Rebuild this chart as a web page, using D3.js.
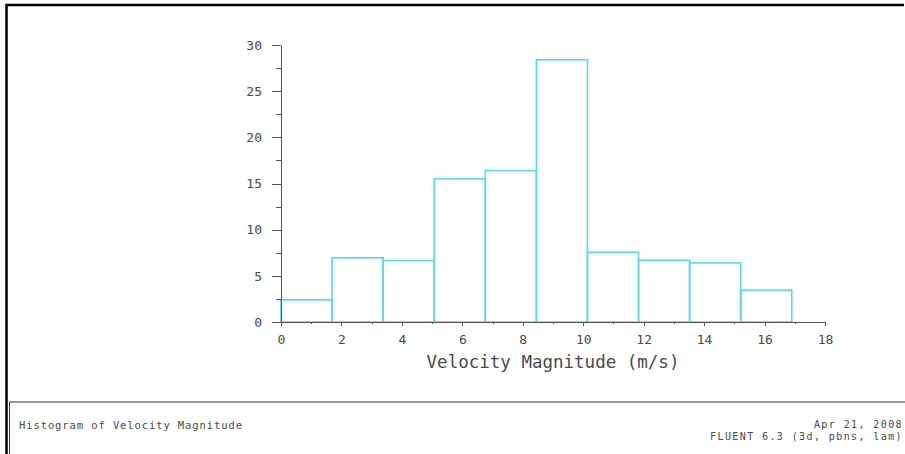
<!DOCTYPE html>
<html>
<head>
<meta charset="utf-8">
<script src="https://cdn.jsdelivr.net/npm/d3@7"></script>
<style>
  body { margin: 0; background: #fff; }
  svg { display: block; }
  text { font-family: "DejaVu Sans Mono", monospace; fill: #4a4a4a; }
  .axis path, .axis line { stroke: #555; shape-rendering: crispEdges; }
</style>
</head>
<body>
<div id="chart"></div>
<script>
// histogram data
const binEdges = [0, 1.69, 3.38, 5.07, 6.76, 8.45, 10.14, 11.83, 13.52, 15.21, 16.9];
const binCounts = [2.4, 6.95, 6.65, 15.5, 16.4, 28.4, 7.55, 6.68, 6.4, 3.45];
const xTicks = [0, 2, 4, 6, 8, 10, 12, 14, 16, 18];
const xMinorTicks = [1, 3, 5, 7, 9, 11, 13, 15, 17];
const yTicks = [0, 5, 10, 15, 20, 25, 30];
const yMinorTicks = [2.5, 7.5, 12.5, 17.5, 22.5, 27.5];

const titleText = "Histogram of Velocity Magnitude";
const stampLines = ["Apr 21, 2008", "FLUENT 6.3 (3d, pbns, lam)"];
const xLabelText = "Velocity Magnitude (m/s)";

const W = 905, H = 454;
const PLOT = { left: 281, right: 825, top: 45, bottom: 322 };

const svg = d3.select("#chart").append("svg")
  .attr("width", W)
  .attr("height", H);

const x = d3.scaleLinear().domain([0, 18]).range([PLOT.left, PLOT.right]);
const y = d3.scaleLinear().domain([0, 30]).range([PLOT.bottom, PLOT.top]);

const bins = binCounts.map((c, i) => ({ x0: binEdges[i], x1: binEdges[i + 1], count: c }));

// bars (outlined, no fill)
svg.append("g")
  .selectAll("rect")
  .data(bins)
  .enter()
  .append("rect")
  .attr("x", d => x(d.x0))
  .attr("y", d => y(d.count))
  .attr("width", d => x(d.x1) - x(d.x0))
  .attr("height", d => y(0) - y(d.count))
  .style("fill", "none")
  .style("stroke", "#55dcdc")
  .style("stroke-width", 1.6);

// minor ticks first, then main axes on top
svg.append("g")
  .attr("class", "axis")
  .attr("transform", `translate(0,${PLOT.bottom})`)
  .call(d3.axisBottom(x).tickValues(xMinorTicks).tickSize(2).tickSizeOuter(0).tickFormat(""))
  .select(".domain").remove();

svg.append("g")
  .attr("class", "axis")
  .attr("transform", `translate(${PLOT.left},0)`)
  .call(d3.axisLeft(y).tickValues(yMinorTicks).tickSize(5).tickSizeOuter(0).tickFormat(""))
  .select(".domain").remove();

const xAxis = svg.append("g")
  .attr("class", "axis x")
  .attr("transform", `translate(0,${PLOT.bottom})`)
  .call(d3.axisBottom(x).tickValues(xTicks).tickSize(4).tickSizeOuter(0).tickPadding(9));

xAxis.selectAll("text")
  .style("font-size", "13px")
  .attr("fill", "#4a4a4a");

const yAxis = svg.append("g")
  .attr("class", "axis y")
  .attr("transform", `translate(${PLOT.left},0)`)
  .call(d3.axisLeft(y).tickValues(yTicks).tickSize(9).tickSizeOuter(0).tickPadding(10));

yAxis.selectAll("text")
  .style("font-size", "13px")
  .attr("fill", "#4a4a4a");

// x label
svg.append("text")
  .attr("x", (PLOT.left + PLOT.right) / 2)
  .attr("y", 368)
  .attr("text-anchor", "middle")
  .style("font-size", "17.5px")
  .text(xLabelText);

// outer frame
svg.append("path")
  .attr("d", `M6.5,${H} V5 H904`)
  .style("fill", "none")
  .style("stroke", "#000")
  .style("stroke-width", 2.5);

// bottom info panel
svg.append("path")
  .attr("d", `M9.5,${H} V402 H${W}`)
  .style("fill", "none")
  .style("stroke", "#333")
  .style("stroke-width", 1);

svg.append("text")
  .attr("x", 19)
  .attr("y", 429)
  .style("font-size", "10.5px")
  .style("letter-spacing", "0.9px")
  .text(titleText);

svg.append("g")
  .selectAll("text")
  .data(stampLines)
  .enter()
  .append("text")
  .attr("x", 903)
  .attr("y", (d, i) => 428 + i * 12)
  .attr("text-anchor", "end")
  .style("font-size", "10px")
  .style("letter-spacing", "1.4px")
  .text(d => d);
</script>
</body>
</html>
